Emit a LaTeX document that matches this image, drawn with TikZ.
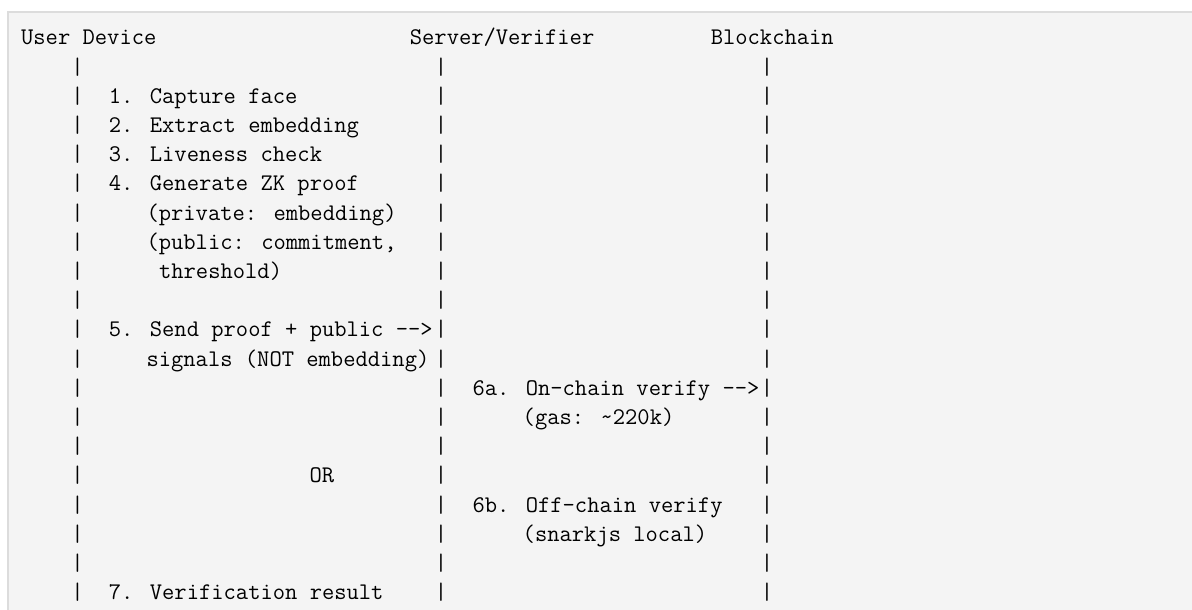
\documentclass[tikz,border=0pt]{standalone}
\usepackage{fontspec}
\usepackage{tikz}
\usetikzlibrary{positioning}

\definecolor{codebg}{HTML}{F4F4F4}
\definecolor{codeframe}{HTML}{DCDCDC}
\definecolor{codetext}{HTML}{000000}

\begin{document}
\begin{tikzpicture}[x=6.27pt,y=-14.6pt,every node/.style={inner sep=0pt,anchor=base west,text=codetext,font=\fontsize{11.94}{14.6}\selectfont\ttfamily}]
		\useasboundingbox (-1.655,-1.541) rectangle (93.41,19.35);
		\clip (-1.655,-1.541) rectangle (93.41,19.35);

		%code block
		\filldraw[fill=codebg,draw=codeframe,line width=1pt] (-1.017,-1.113) rectangle (100,25);

		%headers
		\node (user) at (0,0) {User Device};
		\node (server) at (31,0) {Server/Verifier};
		\node (chain) at (55,0) {Blockchain};

		%lifelines
		\foreach \r in {1,...,19} {
			\node (u\r) at (4,\r) {|};
			\node (s\r) at (33,\r) {|};
			\node (b\r) at (59,\r) {|};
		}

		%user device steps
		\node (st1) at (7,2) {1. Capture face};
		\node (st2) at (7,3) {2. Extract embedding};
		\node (st3) at (7,4) {3. Liveness check};
		\node (st4) at (7,5) {4. Generate ZK proof};
		\node (st4a) at (10,6) {(private: embedding)};
		\node (st4b) at (10,7) {(public: commitment,};
		\node (st4c) at (11,8) {threshold)};
		\node (st5) at (7,10) {5. Send proof + public -{}-{}>};
		\node (st5a) at (10,11) {signals (NOT embedding)};

		%server steps
		\node (st6a) at (36,12) {6a. On-chain verify -{}-{}>};
		\node (st6aa) at (40,13) {(gas: \textasciitilde220k)};
		\node (or) at (23,15) {OR};
		\node (st6b) at (36,16) {6b. Off-chain verify};
		\node (st6ba) at (40,17) {(snarkjs local)};

		%result
		\node (st7) at (7,19) {7. Verification result};
	\end{tikzpicture}
\end{document}
